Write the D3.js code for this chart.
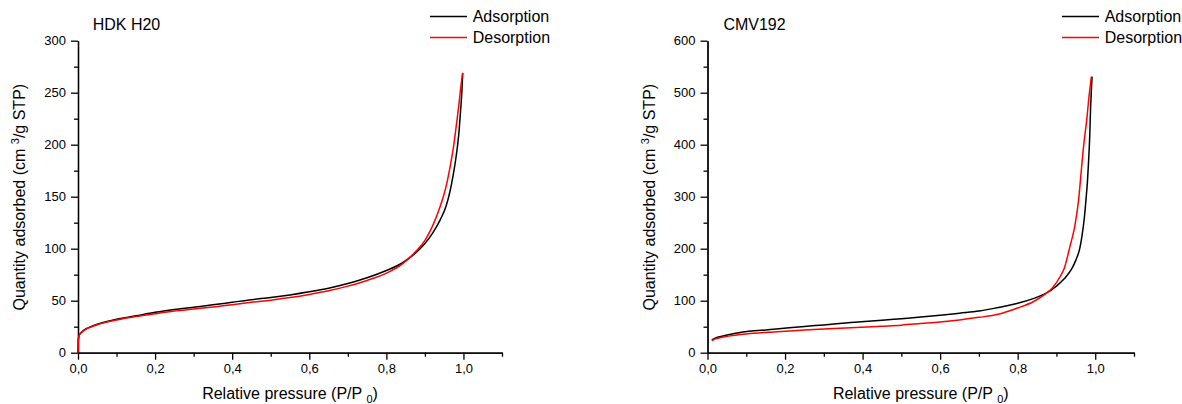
<!DOCTYPE html>
<html>
<head>
<meta charset="utf-8">
<script src="https://cdn.jsdelivr.net/npm/d3@7/dist/d3.min.js"></script>
<style>
  body { margin: 0; background: #fff; }
  svg { display: block; font-family: Arial, "Liberation Sans", sans-serif; }
  .axis path, .axis line { stroke: #000; stroke-width: 1.3; }
  .axis text { font-size: 13px; fill: #000; }
</style>
</head>
<body>
<svg id="chart" width="1182" height="404"></svg>
<script>
// HDK H20
const hdkAdsX = [0, 0.0005, 0.001, 0.003, 0.006, 0.01, 0.02, 0.03, 0.05, 0.075, 0.1, 0.15, 0.2, 0.25, 0.3, 0.35, 0.4, 0.45, 0.5, 0.55, 0.6, 0.65, 0.7, 0.75, 0.8, 0.84, 0.87, 0.9, 0.92, 0.94, 0.955, 0.965, 0.973, 0.98, 0.985, 0.989, 0.993, 0.996, 0.998];
const hdkAdsY = [0, 8, 13, 16.5, 18.5, 20, 22.8, 24.5, 27.3, 30, 32.2, 35.5, 38.8, 41.5, 43.8, 46, 48.5, 51, 53, 55.5, 58.5, 62, 66.5, 72, 79, 86, 94, 105, 115, 128, 141, 155, 170, 186, 200, 215, 235, 252, 269];
const hdkDesX = [0, 0.0005, 0.001, 0.003, 0.006, 0.01, 0.02, 0.03, 0.05, 0.075, 0.1, 0.15, 0.2, 0.25, 0.3, 0.35, 0.4, 0.45, 0.5, 0.55, 0.6, 0.65, 0.7, 0.75, 0.8, 0.84, 0.87, 0.9, 0.92, 0.94, 0.955, 0.965, 0.975, 0.982, 0.988, 0.993, 0.998];
const hdkDesY = [0, 8, 13, 16.5, 18.3, 19.7, 22.5, 24.2, 26.9, 29.5, 31.5, 34.8, 37.5, 40, 42, 44, 46, 48.5, 50.5, 53, 56, 59.5, 64, 69.5, 76.5, 85, 95, 108, 122, 141, 160, 178, 200, 220, 238, 255, 269];

// CMV192
const cmvAdsX = [0.011, 0.02, 0.04, 0.06, 0.085, 0.12, 0.17, 0.25, 0.3, 0.37, 0.45, 0.5, 0.55, 0.6, 0.65, 0.7, 0.75, 0.8, 0.84, 0.87, 0.9, 0.92, 0.94, 0.95, 0.96, 0.966, 0.972, 0.976, 0.98, 0.983, 0.986, 0.988, 0.99, 0.992];
const cmvAdsY = [24.5, 28, 32, 35.5, 39, 42, 45, 50.5, 53.5, 58, 62.5, 65.5, 68.5, 72, 76, 80, 87, 95, 104, 113, 128, 142, 162, 178, 200, 225, 260, 293, 330, 370, 420, 470, 505, 531];
const cmvDesX = [0.011, 0.02, 0.04, 0.06, 0.085, 0.12, 0.17, 0.25, 0.3, 0.37, 0.45, 0.5, 0.55, 0.6, 0.65, 0.7, 0.75, 0.8, 0.84, 0.87, 0.89, 0.91, 0.92, 0.935, 0.947, 0.957, 0.965, 0.969, 0.972, 0.979, 0.983, 0.988, 0.99];
const cmvDesY = [23.2, 26.5, 30, 32.5, 35, 37.5, 40, 43.5, 45.5, 48, 51, 53, 56, 59, 63, 68, 74, 86, 98, 112, 125, 147, 162, 205, 242, 293, 358, 390, 410, 454, 486, 518, 531];

const xMajor = [0, 0.2, 0.4, 0.6, 0.8, 1.0];
const xMinor = [0.1, 0.3, 0.5, 0.7, 0.9, 1.1];
const seriesNames = ['Adsorption', 'Desorption'];
const seriesColors = ['#000000', '#ff0000'];

const panels = [
  { title: 'HDK H20', ads: [hdkAdsX, hdkAdsY], des: [hdkDesX, hdkDesY],
    yMax: 300, yMajor: d3.range(0, 301, 50), yMinor: d3.range(25, 300, 50),
    x0: 78, x1: 502, titleX: 92.7, legendX: 430, labelX: 25 },
  { title: 'CMV192', ads: [cmvAdsX, cmvAdsY], des: [cmvDesX, cmvDesY],
    yMax: 600, yMajor: d3.range(0, 601, 100), yMinor: d3.range(50, 600, 100),
    x0: 707.5, x1: 1134, titleX: 723.4, legendX: 1062, labelX: 655 }
];

const svg = d3.select('#chart');
const yTop = 40.7, yBottom = 352.7;
const commaFmt = d => d3.format('.1f')(d).replace('.', ',');

panels.forEach(p => {
  const x = d3.scaleLinear().domain([0, 1.1]).range([p.x0, p.x1]);
  const y = d3.scaleLinear().domain([0, p.yMax]).range([yBottom, yTop]);
  const g = svg.append('g');

  // minor ticks first, then major axes with labels
  g.append('g').attr('class', 'axis')
    .attr('transform', `translate(0,${yBottom})`)
    .call(d3.axisBottom(x).tickValues(xMinor).tickSize(4).tickSizeOuter(0).tickFormat(''));
  g.append('g').attr('class', 'axis')
    .attr('transform', `translate(0,${yBottom})`)
    .call(d3.axisBottom(x).tickValues(xMajor).tickSize(7).tickSizeOuter(0).tickPadding(4).tickFormat(commaFmt));

  g.append('g').attr('class', 'axis')
    .attr('transform', `translate(${p.x0},0)`)
    .call(d3.axisLeft(y).tickValues(p.yMinor).tickSize(4).tickSizeOuter(0).tickFormat(''));
  g.append('g').attr('class', 'axis')
    .attr('transform', `translate(${p.x0},0)`)
    .call(d3.axisLeft(y).tickValues(p.yMajor).tickSize(7).tickSizeOuter(0).tickPadding(5).tickFormat(d3.format('d')));

  const line = d3.line()
    .x(d => x(d[0]))
    .y(d => y(d[1]))
    .curve(d3.curveMonotoneX);

  [p.ads, p.des].forEach((s, i) => {
    const pts = s[0].map((v, k) => [v, s[1][k]]);
    g.append('path')
      .datum(pts)
      .attr('d', line)
      .attr('fill', 'none')
      .attr('stroke', seriesColors[i])
      .attr('stroke-width', 1.5);
  });

  // title
  g.append('text')
    .attr('x', p.titleX).attr('y', 29.5)
    .attr('font-size', 16)
    .text(p.title);

  // legend
  seriesNames.forEach((name, i) => {
    const ly = 16.5 + i * 21;
    g.append('line')
      .attr('x1', p.legendX).attr('x2', p.legendX + 37)
      .attr('y1', ly).attr('y2', ly)
      .attr('stroke', seriesColors[i]).attr('stroke-width', 1.5);
    g.append('text')
      .attr('x', p.legendX + 42.7).attr('y', ly + 5.7)
      .attr('font-size', 16)
      .text(name);
  });

  // x label
  const xl = g.append('text')
    .attr('x', (p.x0 + p.x1) / 2).attr('y', 399.3)
    .attr('text-anchor', 'middle')
    .attr('font-size', 16);
  xl.append('tspan').text('Relative pressure (P/P ');
  xl.append('tspan').attr('font-size', 11).attr('dy', 4).text('0');
  xl.append('tspan').attr('dy', -4).text(')');

  // y label
  const yl = g.append('text')
    .attr('transform', `translate(${p.labelX},${(yTop + yBottom) / 2 + 0.5}) rotate(-90)`)
    .attr('text-anchor', 'middle')
    .attr('font-size', 16);
  yl.append('tspan').text('Quantity adsorbed (cm ');
  yl.append('tspan').attr('font-size', 11).attr('dy', -6).text('3');
  yl.append('tspan').attr('dy', 6).text('/g STP)');
});
</script>
</body>
</html>
